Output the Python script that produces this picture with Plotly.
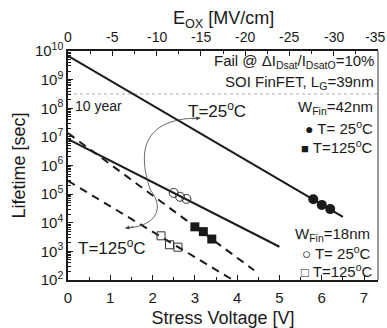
import plotly.graph_objects as go

# ---- data ----
# fitted lifetime lines (stress voltage [V] -> lifetime [sec])
line25_42_x = [0.0, 6.5]
line25_42_y = [6.8e9, 1.6e4]
line25_18_x = [0.0, 5.0]
line25_18_y = [8.3e6, 1.45e3]
line125_42_x = [0.0, 4.4]
line125_42_y = [1.35e7, 2.2e2]
line125_18_x = [0.0, 3.9]
line125_18_y = [2.9e5, 1.0e2]

# measured points
w42_t25_x = [5.8, 6.0, 6.2]
w42_t25_y = [6.6e4, 4.2e4, 3.0e4]
w42_t125_x = [3.0, 3.2, 3.4]
w42_t125_y = [7.2e3, 4.9e3, 2.7e3]
w18_t25_x = [2.5, 2.65, 2.8]
w18_t25_y = [1.1e5, 8.1e4, 6.8e4]
w18_t125_x = [2.2, 2.4, 2.6]
w18_t125_y = [3.5e3, 1.7e3, 1.4e3]

ten_year_x = [0.0, 7.33]
ten_year_y = [3.15e8, 3.15e8]

x_range = [0, 7.33]
x_ticks = [0, 1, 2, 3, 4, 5, 6, 7]
eox_range = [0, -35]
eox_ticks = [0, -5, -10, -15, -20, -25, -30, -35]
eox_labels = ["0", "-5", "-10", "-15", "-20", "-25", "-30", "-35"]
y_exps = [2, 3, 4, 5, 6, 7, 8, 9, 10]

FONT = "Liberation Sans, Arial, sans-serif"
INK = "#1a1a1a"

fig = go.Figure()

fig.add_trace(go.Scatter(x=ten_year_x, y=ten_year_y, mode="lines",
                         line=dict(color="#aaaaaa", width=1, dash="dot"),
                         showlegend=False, hoverinfo="skip"))

for xs, ys, dash in [(line25_42_x, line25_42_y, "solid"),
                     (line25_18_x, line25_18_y, "solid"),
                     (line125_42_x, line125_42_y, "8px,6px"),
                     (line125_18_x, line125_18_y, "8px,6px")]:
    fig.add_trace(go.Scatter(x=xs, y=ys, mode="lines",
                             line=dict(color=INK, width=2, dash=dash),
                             showlegend=False))

fig.add_trace(go.Scatter(x=w42_t25_x, y=w42_t25_y, mode="markers",
                         marker=dict(symbol="circle", size=10, color=INK),
                         showlegend=False))
fig.add_trace(go.Scatter(x=w42_t125_x, y=w42_t125_y, mode="markers",
                         marker=dict(symbol="square", size=9, color=INK),
                         showlegend=False))
fig.add_trace(go.Scatter(x=w18_t25_x, y=w18_t25_y, mode="markers",
                         marker=dict(symbol="circle-open", size=9, color="#333333",
                                     line=dict(width=1)),
                         showlegend=False))
fig.add_trace(go.Scatter(x=w18_t125_x, y=w18_t125_y, mode="markers",
                         marker=dict(symbol="square-open", size=8, color="#333333",
                                     line=dict(width=1)),
                         showlegend=False))

# invisible trace to activate top axis
fig.add_trace(go.Scatter(x=[eox_range[0]], y=[1e5], xaxis="x2", mode="markers",
                         marker=dict(opacity=0), showlegend=False, hoverinfo="skip"))

minor_y = [k * 10 ** e for e in range(2, 10) for k in range(2, 10)]

fig.update_layout(
    width=387, height=328,
    margin=dict(l=68, r=9, t=51, b=48, autoexpand=False),
    paper_bgcolor="white", plot_bgcolor="white",
    font=dict(family=FONT, color=INK, size=15),
    xaxis=dict(range=x_range, tickvals=x_ticks, ticks="inside", ticklen=5,
               automargin=False,
               showgrid=False, zeroline=False, showline=True, linecolor=INK,
               linewidth=1.5, tickcolor=INK, tickfont=dict(size=15),
               ticklabelstandoff=3,
               minor=dict(ticks="inside", ticklen=3, dtick=0.5, tickcolor=INK, showgrid=False),
               title=dict(text="Stress Voltage [V]", font=dict(size=18), standoff=8)),
    xaxis2=dict(range=eox_range, tickvals=eox_ticks, overlaying="x", side="top",
                automargin=False,
                ticks="inside", ticklen=5, showgrid=False, zeroline=False,
                showline=True, linecolor=INK, linewidth=1.5, tickcolor=INK,
                showticklabels=False,
                minor=dict(ticks="inside", ticklen=3, dtick=2.5, tickcolor=INK, showgrid=False)),
    yaxis=dict(type="log", range=[2, 10], automargin=False,
               tickvals=[10 ** e for e in y_exps],
               ticktext=[f"10<sup>{e}</sup>" for e in y_exps],
               ticks="inside", ticklen=5, showgrid=False, zeroline=False,
               showline=True, linecolor=INK, linewidth=1.5, tickcolor=INK,
               tickfont=dict(size=15),
               minor=dict(ticks="inside", ticklen=3, tickvals=minor_y, tickcolor=INK, showgrid=False),
               title=dict(text="Lifetime [sec]", font=dict(size=18), standoff=5)),
)

# top axis tick labels and title
for v, lab in zip(eox_ticks, eox_labels):
    fig.add_annotation(xref="x2", yref="paper", x=v, y=1, yshift=14, text=lab,
                       xshift=(-3 if v == eox_ticks[-1] else 0),
                       showarrow=False, xanchor="center", yanchor="middle",
                       font=dict(size=14, family=FONT, color=INK))
fig.add_annotation(xref="paper", yref="paper", x=0.5, y=1, yshift=32,
                   text="E<sub>OX</sub> [MV/cm]", showarrow=False,
                   xanchor="center", yanchor="middle",
                   font=dict(size=18, family=FONT, color=INK))

# right frame edge (grey)
fig.add_shape(type="line", xref="paper", yref="paper", x0=1, x1=1, y0=0, y1=1,
              line=dict(color="#9a9a9a", width=2))

# curved double arrow
fig.add_shape(type="path", xref="paper", yref="paper",
              path="M 0.4268 0.7074 C 0.2171 0.7074 0.2332 0.5240 0.2655 0.3930 "
                   "C 0.3063 0.3275 0.2987 0.2358 0.1848 0.2258",
              line=dict(color="#444444", width=0.8))
fig.add_annotation(xref="paper", yref="paper", x=0.4268, y=0.7074, ax=-10, ay=1,
                   text="", showarrow=True, arrowhead=2, arrowsize=1, arrowwidth=0.8,
                   arrowcolor="#444444")
fig.add_annotation(xref="paper", yref="paper", x=0.1848, y=0.2258, ax=10, ay=-2,
                   text="", showarrow=True, arrowhead=2, arrowsize=1, arrowwidth=0.8,
                   arrowcolor="#444444")

def note(text, x, y, size, anchor="right"):
    fig.add_annotation(xref="paper", yref="paper", x=x, y=y, text=text,
                       showarrow=False, xanchor=anchor, yanchor="middle",
                       font=dict(size=size, family=FONT, color=INK))

def glyph(g, px):
    return f"<span style='font-size:{px}px'>{g}</span>"

note("Fail @ ΔI<sub>Dsat</sub>/I<sub>DsatO</sub>=10%", 0.995, 0.955, 15)
note("SOI FinFET, L<sub>G</sub>=39nm", 0.995, 0.862, 15)
note("W<sub>Fin</sub>=42nm", 0.99, 0.752, 15)
note(glyph("●", 14) + " T= 25<sup>o</sup>C", 0.99, 0.668, 15)
note(glyph("■", 13) + " T=125<sup>o</sup>C", 0.99, 0.581, 15)
note("W<sub>Fin</sub>=18nm", 0.98, 0.198, 15)
note(glyph("○", 15) + " T= 25<sup>o</sup>C", 0.985, 0.118, 15)
note(glyph("□", 13) + " T=125<sup>o</sup>C", 0.99, 0.040, 15)
note("10 year", 0.015, 0.760, 14, "left")
note("T=25<sup>o</sup>C", 0.38, 0.742, 17, "left")
note("T=125<sup>o</sup>C", 0.025, 0.144, 17, "left")

fig.write_html("out.html")
